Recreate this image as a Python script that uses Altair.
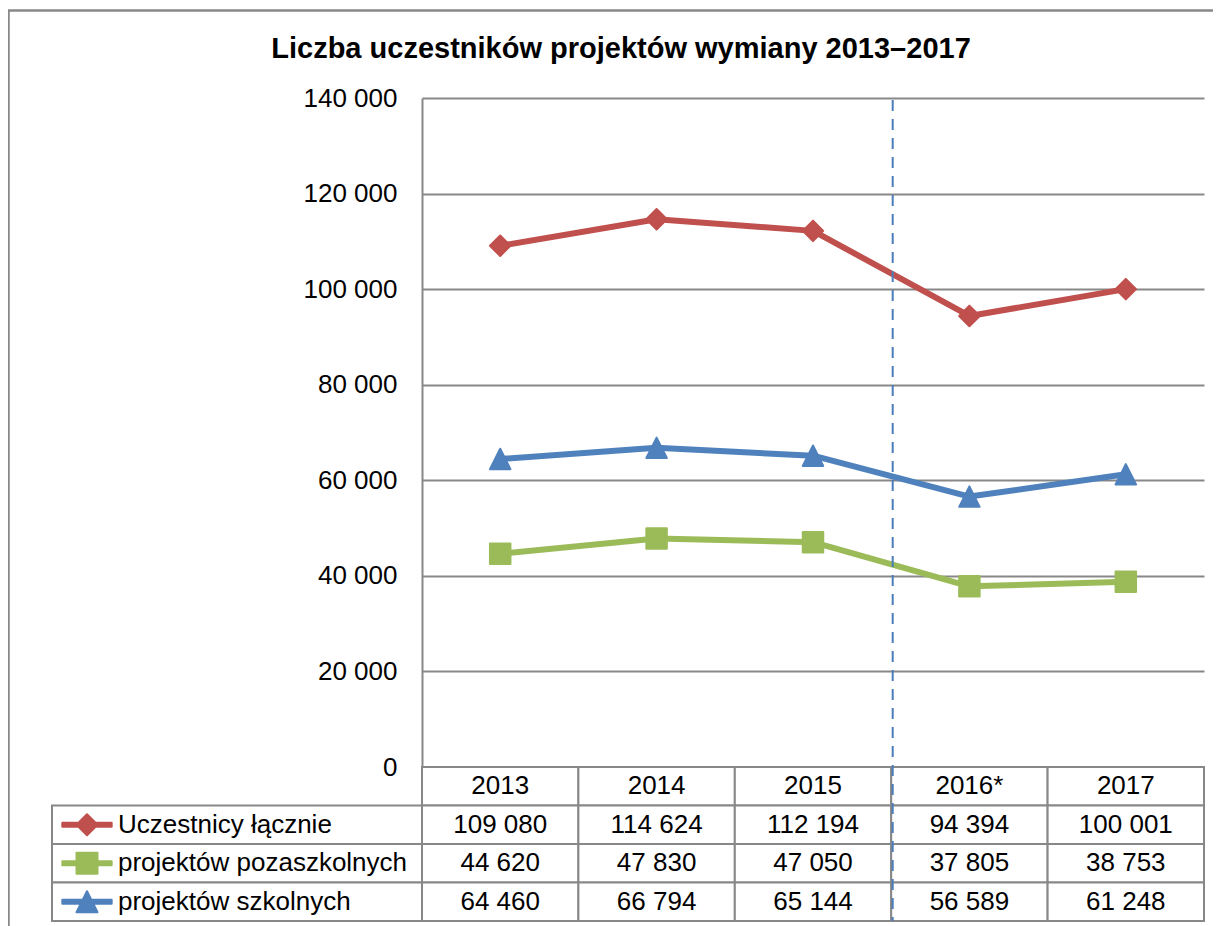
import altair as alt
import pandas as pd

# ---------------- data ----------------
TITLE = "Liczba uczestników projektów wymiany 2013–2017"
YEARS = ["2013", "2014", "2015", "2016*", "2017"]
SERIES = ["Uczestnicy łącznie", "projektów pozaszkolnych", "projektów szkolnych"]
TOTAL = [109080, 114624, 112194, 94394, 100001]
NON_SCHOOL = [44620, 47830, 47050, 37805, 38753]
SCHOOL = [64460, 66794, 65144, 56589, 61248]
Y_TICKS = [0, 20000, 40000, 60000, 80000, 100000, 120000, 140000]
COLORS = ["#C0504D", "#9BBB59", "#4F81BD"]
BREAK_BEFORE = "2016*"

# ---------------- layout / style ----------------
PLOT_W, PLOT_H = 782, 669
ROW_H = 38.5
LABEL_COL_W = 370
FONT = "Liberation Sans"
GRAY = "#888888"
FS = 26

series_values = {SERIES[0]: TOTAL, SERIES[1]: NON_SCHOOL, SERIES[2]: SCHOOL}
df = pd.DataFrame(
    [{"series": s, "year": y, "value": v}
     for s in SERIES for y, v in zip(YEARS, series_values[s])]
)
header_df = pd.DataFrame({"year": YEARS, "row": ["header"] * len(YEARS)})
legend_df = pd.DataFrame({"series": SERIES, "col": ["legend"] * len(SERIES)})
break_df = pd.DataFrame({"year": [BREAK_BEFORE]})
frame_df = pd.DataFrame({"k": [0]})

ROWS = ["header"] + SERIES

x_years = alt.Scale(type="band", domain=YEARS, paddingInner=0, paddingOuter=0)
y_vals = alt.Scale(domain=[0, 140000], nice=False)
y_rows = alt.Scale(type="band", domain=ROWS,
                   range=[PLOT_H, PLOT_H + ROW_H * len(ROWS)],
                   paddingInner=0, paddingOuter=0)
x_label = alt.Scale(type="band", domain=["legend"], range=[-LABEL_COL_W, 0],
                    paddingInner=0, paddingOuter=0)
color_scale = alt.Scale(domain=SERIES, range=COLORS)

TRI = "M0,-1L1,1L-1,1Z"
PLOT_SHAPES = ["diamond", "square", TRI]
BAR = "M-2.35,-0.2L2.35,-0.2L2.35,0.2L-2.35,0.2Z"
KEY_SHAPES = [BAR + "M-1,0L0,-1L1,0L0,1Z", BAR + "M-1,-1L1,-1L1,1L-1,1Z", BAR + TRI]

# ---------------- layers ----------------
frame = alt.Chart(frame_df).mark_rect(fillOpacity=0, stroke=GRAY, strokeWidth=2.5).encode(
    x=alt.value(-413.5), y=alt.value(-87.5),
    x2=alt.value(PLOT_W + 300), y2=alt.value(PLOT_H + 400),
)

x_plot = alt.X("year:N", scale=x_years, axis=None, bandPosition=0.5)
y_axis = alt.Axis(values=Y_TICKS, format=",d", title=None, labelFont=FONT,
                  labelFontSize=FS, labelColor="black", labelPadding=25,
                  ticks=False, domain=True, domainColor=GRAY, domainWidth=2,
                  grid=True, gridColor=GRAY, gridWidth=2)

lines = alt.Chart(df).mark_line(strokeWidth=6, strokeJoin="round").encode(
    x=x_plot,
    y=alt.Y("value:Q", scale=y_vals, axis=y_axis),
    color=alt.Color("series:N", scale=color_scale, legend=None),
)

points = alt.Chart(df).mark_point(filled=True, size=420, opacity=1,
                                   strokeWidth=2, strokeJoin="round").encode(
    x=x_plot,
    y=alt.Y("value:Q", scale=y_vals, axis=None),
    color=alt.Color("series:N", scale=color_scale, legend=None),
    stroke=alt.Stroke("series:N", scale=color_scale, legend=None),
    shape=alt.Shape("series:N", scale=alt.Scale(domain=SERIES, range=PLOT_SHAPES), legend=None),
)

cell_style = dict(fill="white", stroke=GRAY, strokeWidth=2)

header_cells = alt.Chart(header_df).mark_rect(**cell_style).encode(
    x=alt.X("year:N", scale=x_years, axis=None),
    y=alt.Y("row:N", scale=y_rows, axis=None),
)
value_cells = alt.Chart(df).mark_rect(**cell_style).encode(
    x=alt.X("year:N", scale=x_years, axis=None),
    y=alt.Y("series:N", scale=y_rows, axis=None),
)
label_cells = alt.Chart(legend_df).mark_rect(**cell_style).encode(
    x=alt.X("col:N", scale=x_label, axis=None),
    y=alt.Y("series:N", scale=y_rows, axis=None),
)

text_style = dict(font=FONT, fontSize=FS, color="black", baseline="middle")

header_text = alt.Chart(header_df).mark_text(align="center", **text_style).encode(
    x=alt.X("year:N", scale=x_years, axis=None, bandPosition=0.5),
    y=alt.Y("row:N", scale=y_rows, axis=None, bandPosition=0.5),
    text="year:N",
)
value_text = alt.Chart(df).mark_text(align="center", **text_style).encode(
    x=alt.X("year:N", scale=x_years, axis=None, bandPosition=0.5),
    y=alt.Y("series:N", scale=y_rows, axis=None, bandPosition=0.5),
    text=alt.Text("value:Q", format=",d"),
)

keys = alt.Chart(legend_df).mark_point(filled=True, size=441, opacity=1, xOffset=35,
                                       strokeWidth=2, strokeJoin="round").encode(
    x=alt.X("col:N", scale=x_label, axis=None, bandPosition=0),
    y=alt.Y("series:N", scale=y_rows, axis=None, bandPosition=0.5),
    color=alt.Color("series:N", scale=color_scale, legend=None),
    stroke=alt.Stroke("series:N", scale=color_scale, legend=None),
    shape=alt.Shape("series:N", scale=alt.Scale(domain=SERIES, range=KEY_SHAPES), legend=None),
)
key_text = alt.Chart(legend_df).mark_text(align="left", xOffset=66, **text_style).encode(
    x=alt.X("col:N", scale=x_label, axis=None, bandPosition=0),
    y=alt.Y("series:N", scale=y_rows, axis=None, bandPosition=0.5),
    text="series:N",
)

break_rule = alt.Chart(break_df).mark_rule(color="#4A7EBB", strokeWidth=2,
                                           strokeDash=[11, 8], xOffset=1.5).encode(
    x=alt.X("year:N", scale=x_years, axis=None, bandPosition=0),
    y=alt.value(2),
    y2=alt.value(PLOT_H + ROW_H * len(ROWS)),
)

chart = alt.layer(
    frame, lines, points,
    header_cells, value_cells, label_cells,
    header_text, value_text, keys, key_text,
    break_rule,
).resolve_scale(
    x="independent", y="independent", shape="independent",
).properties(
    width=PLOT_W,
    height=PLOT_H,
    autosize=alt.AutoSizeParams(type="none"),
    padding={"left": 414, "top": 90, "right": 9, "bottom": 159},
    title=alt.TitleParams(TITLE, font=FONT, fontSize=29, fontWeight="bold",
                          color="black", anchor="middle", dx=-192, dy=55, offset=0),
).configure(
    locale={"number": {"decimal": ",", "thousands": " ", "grouping": [3],
                       "currency": ["", " zł"]}},
).configure_view(stroke=None)

chart.save("out.html", embed_options={"renderer": "svg", "actions": False})
